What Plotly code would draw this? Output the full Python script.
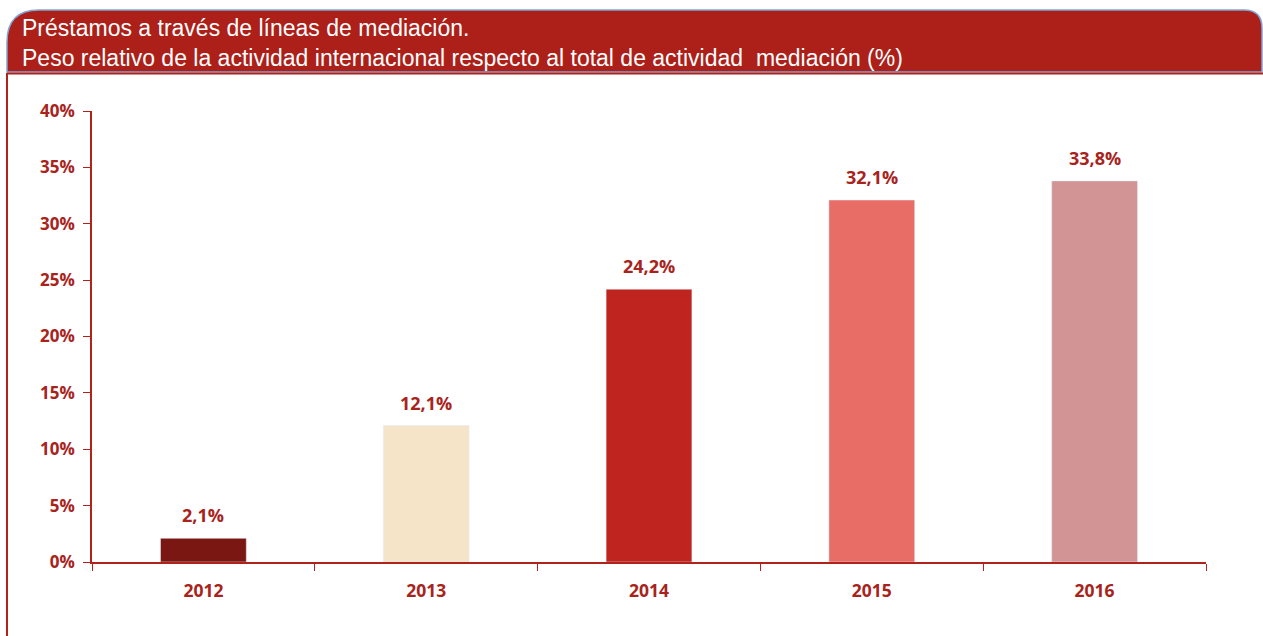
import plotly.graph_objects as go

years = ["2012", "2013", "2014", "2015", "2016"]
values = [2.1, 12.1, 24.2, 32.1, 33.8]
bar_colors = ["#7B1713", "#F5E4C8", "#C0241E", "#E86D66", "#D39495"]
y_ticks = [0, 5, 10, 15, 20, 25, 30, 35, 40]
y_tick_labels = [f"{t}%" for t in y_ticks]
labels = [f"{v:.1f}".replace(".", ",") + "%" for v in values]
title_lines = ["Préstamos a través de líneas de mediación.",
               "Peso relativo de la actividad internacional respecto al total de actividad  mediación (%)"]

W, H = 1263, 636
L, R, T, B = 92, 1206, 111, 562
TXT = "#A8231C"
FONT = "Open Sans, Liberation Sans, sans-serif"


def px(x):
    return (x - L) / (R - L)


def py(y):
    return (B - y) / (B - T)


fig = go.Figure(go.Bar(
    x=years, y=values, marker_color=bar_colors, width=0.385,
    hoverinfo="x+y",
))

# header band with rounded corners
x0, x1, yt, yb = 7, 1262, 10, 72
r1, r2 = 32, 18
path = (f"M {px(x0)},{py(yb)} L {px(x0)},{py(yt + r1)} "
        f"Q {px(x0)},{py(yt)} {px(x0 + r1)},{py(yt)} "
        f"L {px(x1 - r2)},{py(yt)} Q {px(x1)},{py(yt)} {px(x1)},{py(yt + r2)} "
        f"L {px(x1)},{py(yb)} Z")
shapes = [
    dict(type="path", xref="paper", yref="paper", path=path,
         fillcolor="#AC2019", line=dict(color="#7FA6D6", width=1.5), layer="below"),
    dict(type="line", xref="paper", yref="paper", x0=px(x0), x1=px(W), y0=py(73.5), y1=py(73.5),
         line=dict(color="#B0231B", width=2)),
    dict(type="line", xref="paper", yref="paper", x0=px(7), x1=px(7), y0=py(73), y1=py(H),
         line=dict(color="#B0231B", width=2)),
]

annotations = [
    dict(xref="paper", yref="paper", x=px(20), y=py(yc), xanchor="left", yanchor="middle",
         align="left", showarrow=False, text=t,
         font=dict(color="white", size=23, family="Liberation Sans, Arial, sans-serif"))
    for t, yc in zip(title_lines, [28, 58])
]
annotations += [
    dict(x=i, y=v, xref="x", yref="y", text=lab, showarrow=False,
         xanchor="center", yanchor="bottom", yshift=9,
         font=dict(color=TXT, size=18, family=FONT, weight="bold"))
    for i, (v, lab) in enumerate(zip(values, labels))
]

fig.update_layout(
    width=W, height=H,
    margin=dict(l=L, r=W - R, t=T, b=H - B),
    paper_bgcolor="white", plot_bgcolor="white",
    showlegend=False,
    shapes=shapes,
    annotations=annotations,
    xaxis=dict(
        type="category", range=[-0.5, 4.5], showline=True, linecolor="#B0231B", linewidth=1.5,
        ticks="outside", tickson="boundaries", ticklen=7, tickcolor="#B0231B",
        tickfont=dict(color=TXT, size=17.5, family=FONT, weight="bold"),
        ticklabelstandoff=12,
        showgrid=False, zeroline=False,
    ),
    yaxis=dict(
        range=[0, 40], tickvals=y_ticks, ticktext=y_tick_labels,
        showline=True, linecolor="#B0231B", linewidth=1.5,
        ticks="outside", ticklen=7, tickcolor="#B0231B",
        tickfont=dict(color=TXT, size=17, family=FONT, weight="bold"),
        ticklabelstandoff=5,
        showgrid=False, zeroline=False,
    ),
)

fig.write_html("out.html", config={"displayModeBar": False},
               post_script="document.body.style.margin='0';")
